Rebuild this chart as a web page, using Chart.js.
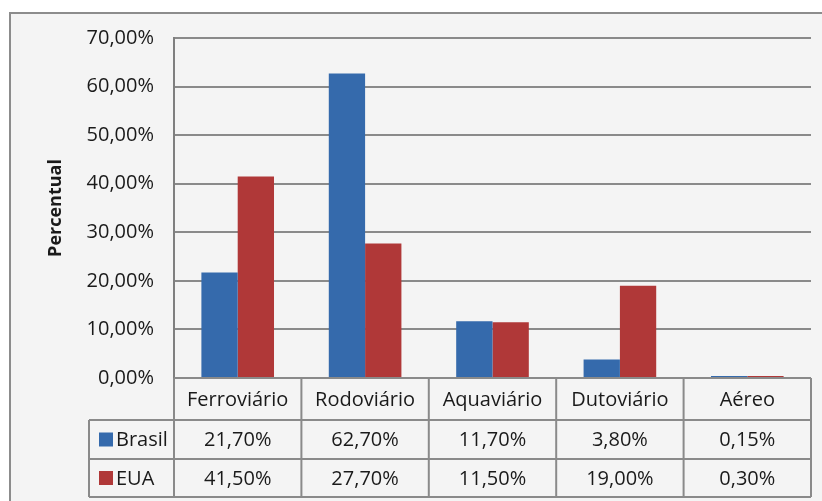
<!DOCTYPE html>
<html>
<head>
<meta charset="utf-8">
<script src="https://cdn.jsdelivr.net/npm/chart.js@4/dist/chart.umd.min.js"></script>
<style>
  html, body { margin: 0; padding: 0; background: #fff; }
  #wrap { width: 822px; height: 501px; }
</style>
</head>
<body>
<div id="wrap"><canvas id="chart" width="822" height="501"></canvas></div>
<script>
// Transport modal share, Brasil vs EUA, with an Excel-style data table under the axis.

const categories = ['Ferroviário', 'Rodoviário', 'Aquaviário', 'Dutoviário', 'Aéreo'];
const brasil = [21.70, 62.70, 11.70, 3.80, 0.15];
const eua    = [41.50, 27.70, 11.50, 19.00, 0.30];
const yTicks = [0, 10, 20, 30, 40, 50, 60, 70];

const FONT = '"Open Sans", sans-serif';
const BLUE = '#356aac';
const RED  = '#b03838';
const LINE = '#8a8a8a';
const TEXT = '#1a1a1a';

const fmtPct = v => v.toFixed(2).replace('.', ',') + '%';

// Frame + light grey panel behind everything.
const framePlugin = {
  id: 'frame',
  beforeDraw(chart) {
    const { ctx, width, height } = chart;
    ctx.save();
    ctx.fillStyle = '#fff';
    ctx.fillRect(0, 0, width, height);
    ctx.fillStyle = '#f4f4f4';
    ctx.fillRect(10, 13, width - 10, height - 13);
    ctx.strokeStyle = '#8c8c8c';
    ctx.lineWidth = 2;
    ctx.beginPath();
    ctx.moveTo(10, height);
    ctx.lineTo(10, 13);
    ctx.lineTo(width, 13);
    ctx.stroke();
    ctx.restore();
  }
};

// Data table under the plot, columns follow the x scale.
const tablePlugin = {
  id: 'dataTable',
  afterDraw(chart) {
    const { ctx, chartArea: a, scales: { x } } = chart;
    const top = a.bottom;
    const r1 = top + 42, r2 = r1 + 39, r3 = r2 + 38;
    const legLeft = 89;
    const edges = [a.left];
    for (let i = 1; i < categories.length; i++) {
      edges.push((x.getPixelForValue(i - 1) + x.getPixelForValue(i)) / 2);
    }
    edges.push(a.right);

    ctx.save();
    ctx.strokeStyle = LINE;
    ctx.lineWidth = 2;
    ctx.beginPath();
    ctx.moveTo(a.left, top); ctx.lineTo(a.right, top);
    [r1, r2, r3].forEach(y => { ctx.moveTo(legLeft, y); ctx.lineTo(a.right, y); });
    edges.forEach(ex => { ctx.moveTo(ex, top); ctx.lineTo(ex, r3); });
    ctx.moveTo(legLeft, r1); ctx.lineTo(legLeft, r3);
    ctx.stroke();

    ctx.fillStyle = TEXT;
    ctx.font = '20px ' + FONT;
    ctx.textAlign = 'center';
    ctx.textBaseline = 'middle';
    categories.forEach((c, i) => {
      const cx = x.getPixelForValue(i);
      ctx.fillText(c, cx, (top + r1) / 2 + 1);
      ctx.fillText(fmtPct(brasil[i]), cx, (r1 + r2) / 2 + 1);
      ctx.fillText(fmtPct(eua[i]), cx, (r2 + r3) / 2 + 1);
    });

    // series keys
    const rows = [
      { label: chart.data.datasets[0].label, color: BLUE, y: (r1 + r2) / 2 },
      { label: chart.data.datasets[1].label, color: RED,  y: (r2 + r3) / 2 }
    ];
    ctx.textAlign = 'left';
    rows.forEach(r => {
      ctx.fillStyle = r.color;
      ctx.fillRect(legLeft + 10, r.y - 7, 14, 14);
      ctx.fillStyle = TEXT;
      ctx.fillText(r.label, legLeft + 27, r.y + 1);
    });
    ctx.restore();
  }
};

new Chart(document.getElementById('chart'), {
  type: 'bar',
  data: {
    labels: categories,
    datasets: [
      { label: 'Brasil', data: brasil, backgroundColor: BLUE, minBarLength: 2 },
      { label: 'EUA',    data: eua,    backgroundColor: RED,  minBarLength: 2 }
    ]
  },
  options: {
    responsive: false,
    animation: false,
    layout: { padding: { left: 0, top: 38, right: 11, bottom: 123 } },
    datasets: { bar: { categoryPercentage: 0.57, barPercentage: 1.0 } },
    plugins: { legend: { display: false }, tooltip: { enabled: false } },
    scales: {
      x: { display: false },
      y: {
        min: 0, max: 70,
        afterFit: s => { s.width = 174; },
        afterBuildTicks: s => { s.ticks = yTicks.map(v => ({ value: v })); },
        border: { display: true, color: '#7f7f7f', width: 2 },
        grid: { color: LINE, lineWidth: 2, drawTicks: false },
        ticks: {
          padding: 20,
          color: TEXT,
          font: { family: FONT, size: 20 },
          callback: v => fmtPct(v)
        },
        title: {
          display: true,
          text: 'Percentual',
          color: TEXT,
          font: { family: FONT, size: 18, weight: 'bold' },
          padding: { top: 45, bottom: 0 }
        }
      }
    }
  },
  plugins: [framePlugin, tablePlugin]
});
</script>
</body>
</html>
